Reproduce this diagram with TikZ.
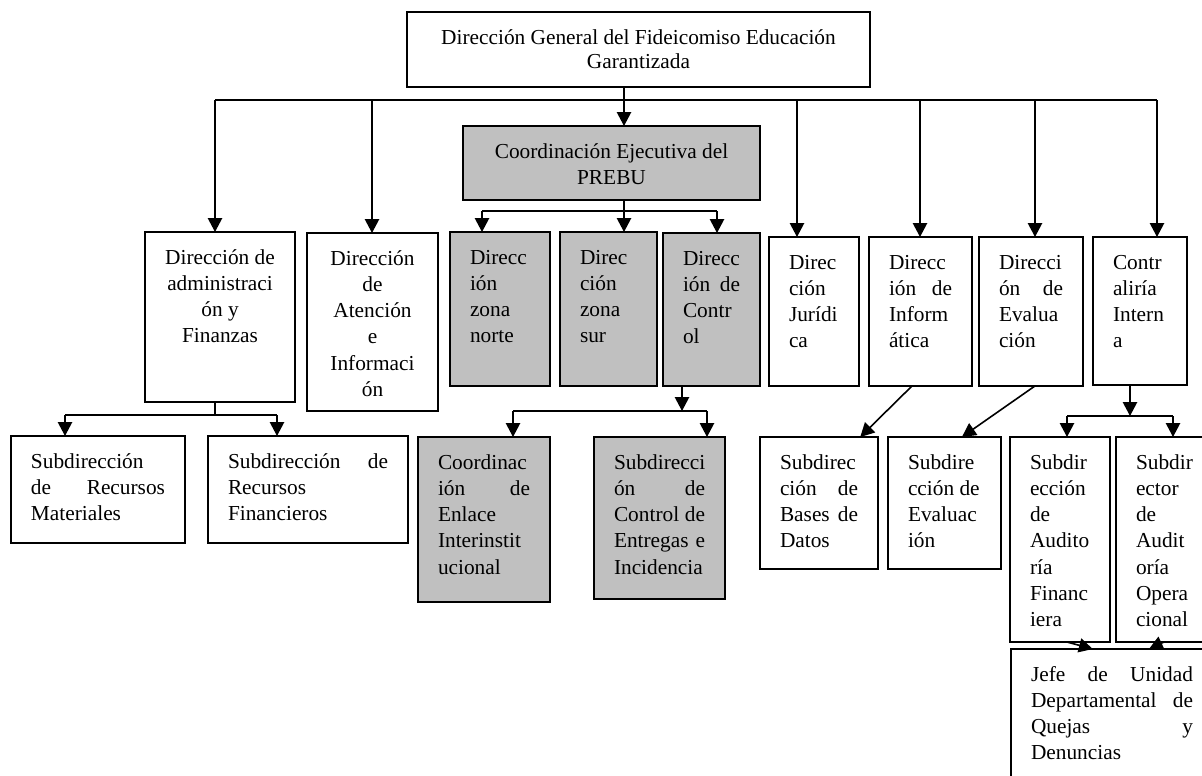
\documentclass[tikz,border=0pt]{standalone}
\usepackage{fontspec}
\setmainfont{Liberation Serif}
\usetikzlibrary{arrows.meta}

\definecolor{prebugray}{RGB}{192,192,192}
\newdimen\px
\px=0.5625pt
\newcommand{\boxtxt}[4]{\parbox[c][#2\px][t]{#1\px}{\fontsize{12}{14.8}\selectfont#3\rule{0pt}{32\px}#4}}
\newcommand{\padtxt}{\leftskip=20\px\rightskip=20\px}
\tikzset{
  orgbox/.style={draw, line width=1.1pt, inner sep=0pt, outer sep=0pt, anchor=north west},
  prebu/.style={orgbox, fill=prebugray}
}

\begin{document}
\begin{tikzpicture}[>={Triangle[width=8pt,length=7.8pt]}, line width=0.9pt, x=0.5625pt, y=-0.5625pt]
        \useasboundingbox (0,0) rectangle (1202,775);
        \clip (0,0) rectangle (1202,775);

        \node[orgbox] (dg) at (407,12) {\boxtxt{463}{75}{\centering\fontsize{12}{13.5}\selectfont}{Dirección General del Fideicomiso Educación\\Garantizada}};
        \node[prebu] (ce) at (463,126) {\boxtxt{297}{74}{\centering}{Coordinación Ejecutiva del\\PREBU}};

        \node[orgbox] (daf) at (145,232) {\boxtxt{150}{170}{\centering}{Dirección de\\administraci\\ón y\\Finanzas}};
        \node[orgbox] (dai) at (307,233) {\boxtxt{131}{178}{\centering}{Dirección\\de\\Atención\\e\\Informaci\\ón}};
        \node[prebu] (dzn) at (450,232) {\boxtxt{100}{154}{\padtxt}{Direcc\\ión\\zona\\norte}};
        \node[prebu] (dzs) at (560,232) {\boxtxt{97}{154}{\padtxt}{Direc\\ción\\zona\\sur}};
        \node[prebu] (dc) at (663,233) {\boxtxt{97}{153}{\padtxt}{Direcc\\ión\hfill de\\Contr\\ol}};
        \node[orgbox] (dj) at (769,237) {\boxtxt{90}{149}{\padtxt}{Direc\\ción\\Jurídi\\ca}};
        \node[orgbox] (di) at (869,237) {\boxtxt{103}{149}{\padtxt}{Direcc\\ión\hfill de\\Inform\\ática}};
        \node[orgbox] (de) at (979,237) {\boxtxt{104}{149}{\padtxt}{Direcci\\ón\hfill de\\Evalua\\ción}};
        \node[orgbox] (ci) at (1093,237) {\boxtxt{94}{148}{\padtxt}{Contr\\aliría\\Intern\\a}};

        \node[orgbox] (srm) at (11,436) {\boxtxt{174}{107}{\padtxt}{Subdirección\\de\hfill Recursos\\Materiales}};
        \node[orgbox] (srf) at (208,436) {\boxtxt{200}{107}{\padtxt}{Subdirección\hfill de\\Recursos\\Financieros}};
        \node[prebu] (cei) at (418,437) {\boxtxt{132}{165}{\padtxt}{Coordinac\\ión\hfill de\\Enlace\\Interinstit\\ucional}};
        \node[prebu] (sce) at (594,437) {\boxtxt{131}{162}{\padtxt}{Subdirecci\\ón\hfill de\\Control\hfill de\\Entregas\hfill e\\Incidencia}};
        \node[orgbox] (sbd) at (760,437) {\boxtxt{118}{132}{\padtxt}{Subdirec\\ción\hfill de\\Bases\hfill de\\Datos}};
        \node[orgbox] (sev) at (888,437) {\boxtxt{113}{132}{\padtxt}{Subdire\\cción de\\Evaluac\\ión}};
        \node[orgbox] (saf) at (1010,437) {\boxtxt{100}{205}{\padtxt}{Subdir\\ección\\de\\Audito\\ría\\Financ\\iera}};
        \node[orgbox] (sao) at (1116,437) {\boxtxt{96}{205}{\padtxt}{Subdir\\ector\\de\\Audit\\oría\\Opera\\cional}};
        \node[orgbox] (jud) at (1011,649) {\boxtxt{202}{140}{\padtxt}{Jefe\hfill de\hfill Unidad\\Departamental\hfill de\\Quejas\hfill y\\Denuncias}};

        \coordinate (b1) at (215,100);
        \coordinate (b2) at (372,100);
        \coordinate (b3) at (624,100);
        \coordinate (b4) at (797,100);
        \coordinate (b5) at (920,100);
        \coordinate (b6) at (1035,100);
        \coordinate (b7) at (1157,100);
        \draw (b1) -- (b7);
        \draw[->] (b3 |- dg.south) -- (b3 |- ce.north);
        \foreach \b/\n in {b1/daf,b2/dai,b4/dj,b5/di,b6/de,b7/ci}
            \draw[->] (\b) -- (\b |- \n.north);

        \coordinate (c1) at (482,211);
        \coordinate (c2) at (624,211);
        \coordinate (c3) at (717,211);
        \draw (c1) -- (c3);
        \draw[->] (c2 |- ce.south) -- (c2 |- dzs.north);
        \draw[->] (c1) -- (c1 |- dzn.north);
        \draw[->] (c3) -- (c3 |- dc.north);

        \coordinate (a0) at (215,415);
        \coordinate (a1) at (65,415);
        \coordinate (a2) at (277,415);
        \draw (a0 |- daf.south) -- (a0);
        \draw (a1) -- (a2);
        \draw[->] (a1) -- (a1 |- srm.north);
        \draw[->] (a2) -- (a2 |- srf.north);

        \coordinate (k0) at (682,411);
        \coordinate (k1) at (513,411);
        \coordinate (k2) at (707,411);
        \draw[->] (k0 |- dc.south) -- (k0);
        \draw (k1) -- (k2);
        \draw[->] (k1) -- (k1 |- cei.north);
        \draw[->] (k2) -- (k2 |- sce.north);

        \coordinate (q0) at (1130,416);
        \coordinate (q1) at (1067,416);
        \coordinate (q2) at (1173,416);
        \draw[->] (q0 |- ci.south) -- (q0);
        \draw (q1) -- (q2);
        \draw[->] (q1) -- (q1 |- saf.north);
        \draw[->] (q2) -- (q2 |- sao.north);

        \draw[->] ([xshift=-4.8pt]di.south) -- ([xshift=-10pt]sbd.north east);
        \draw[->] ([xshift=2.2pt]de.south) -- ([xshift=9.8pt]sev.north);
        \draw[->] ([xshift=3.9pt]saf.south) -- ([xshift=46pt]jud.north west);
        \draw[->] ([xshift=0pt]sao.south) -- ([xshift=77.6pt]jud.north west);
    \end{tikzpicture}
\end{document}
